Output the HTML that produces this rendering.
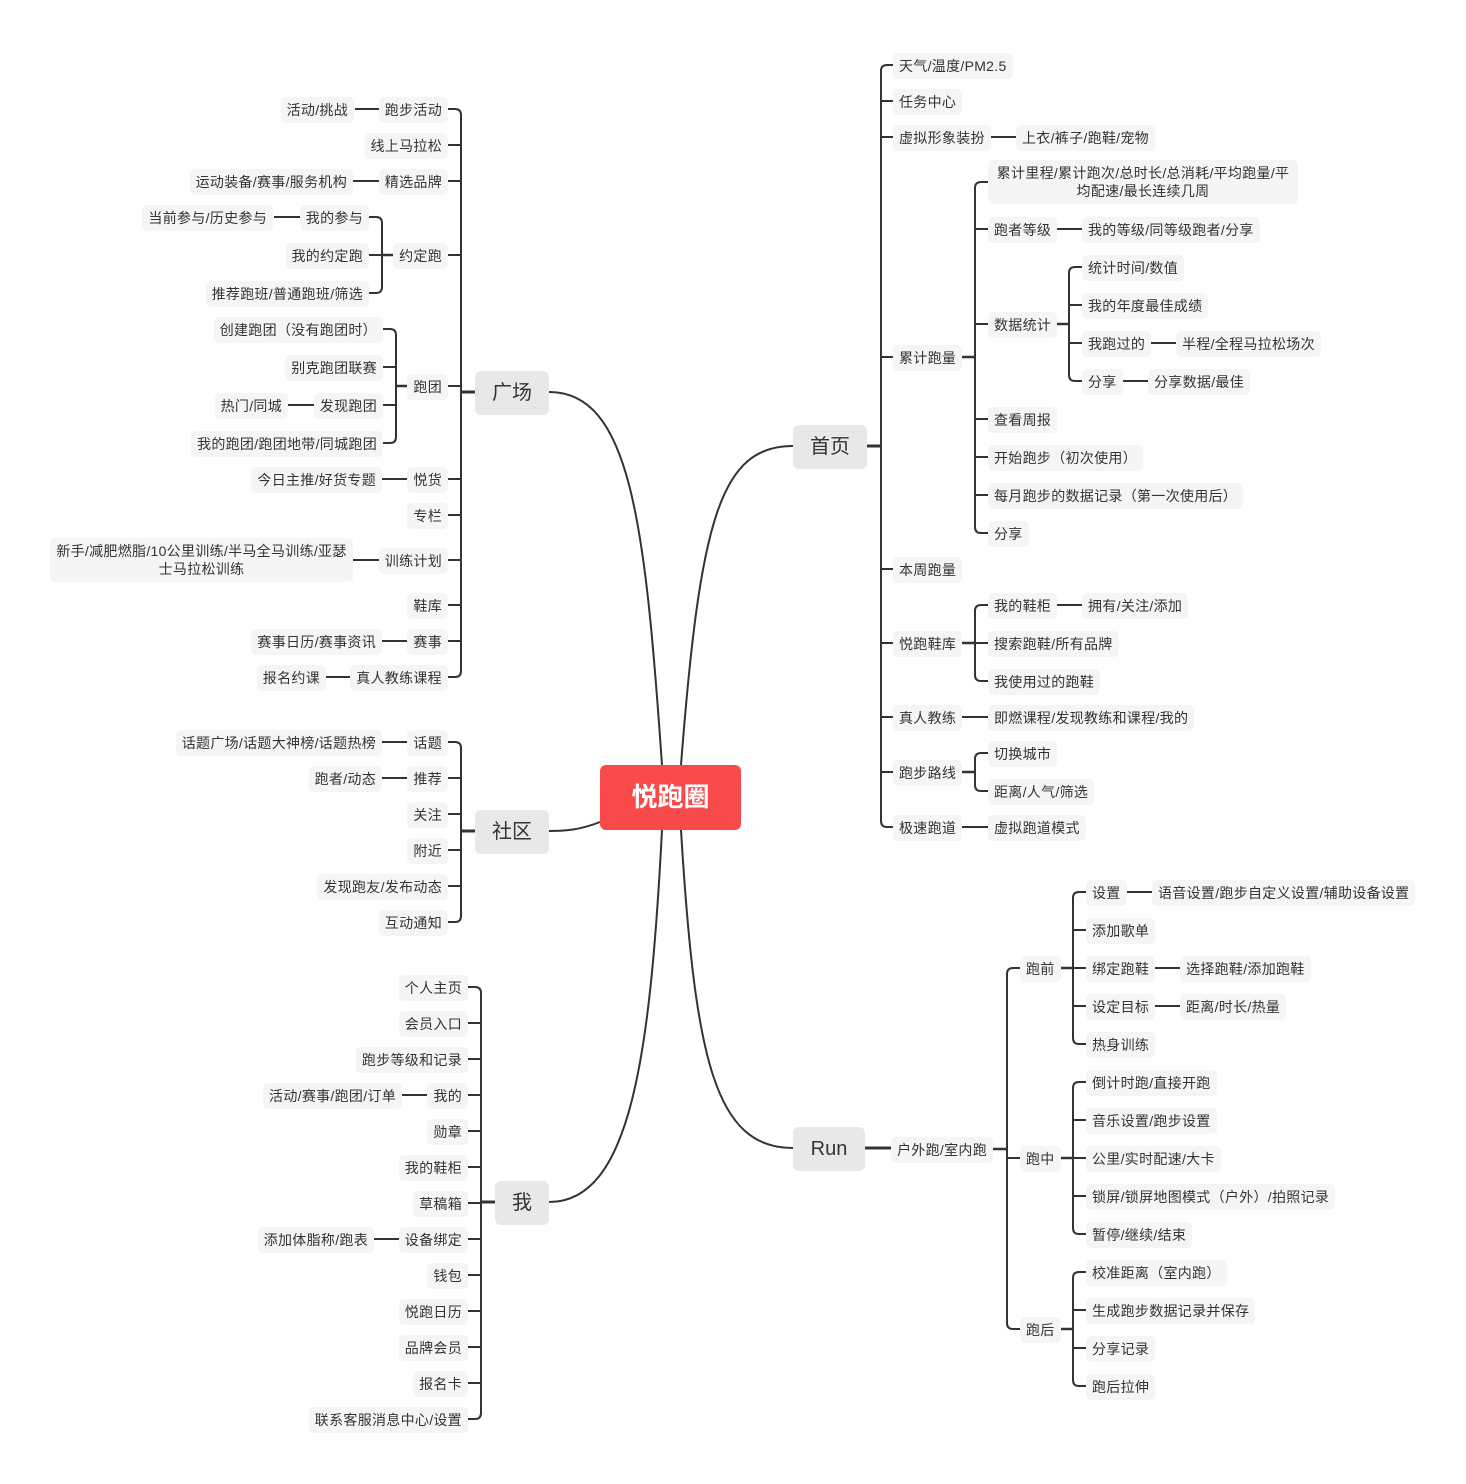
<!DOCTYPE html>
<html><head><meta charset="utf-8"><style>
body{margin:0;width:1466px;height:1484px;background:#fff;position:relative;overflow:hidden;font-family:"Liberation Sans","Noto Sans CJK SC",sans-serif;}
.n{position:absolute;height:26px;line-height:26px;padding:0 6px;background:#f5f5f5;border-radius:5px;font-size:14px;letter-spacing:0.3px;color:#333;white-space:nowrap;transform:translateY(1px);}
.w{position:absolute;padding:4px 6px;background:#f5f5f5;border-radius:5px;font-size:14px;letter-spacing:0.3px;line-height:18px;color:#333;text-align:center;transform:translateY(1px);}
.m{position:absolute;height:44px;line-height:44px;background:#e8e8e8;border-radius:6px;font-size:20px;color:#333;text-align:center;transform:translateY(1px);}
.c{position:absolute;left:600px;top:765px;width:141px;height:65px;line-height:65px;background:#f84a4b;border-radius:6px;color:#fff;font-size:26px;font-weight:bold;text-align:center;}
svg{position:absolute;left:0;top:0;}
</style></head><body>
<svg width="1466" height="1484" fill="none" stroke="#333" stroke-width="2">
<path d="M662,765 C645,520 630,392 549,392"/>
<path d="M681,765 C700,520 720,446 793,446"/>
<path d="M600,822 C580,830 565,831 549,831"/>
<path d="M662,830 C650,1060 630,1202 549,1202"/>
<path d="M681,830 C695,1060 715,1148 793,1148"/>
<path stroke-width="3" d="M867,446H881"/>
<path d="M893,65H887Q881,65 881,71V821Q881,827 887,827H893M881,101H893M881,137H893M881,357H893M881,569H893M881,643H893M881,717H893M881,772H893"/>
<path d="M989,137H1016"/>
<path stroke-width="2.5" d="M961,357H975"/>
<path d="M988,182H981Q975,182 975,188V527Q975,533 981,533H988M975,229H988M975,324H988M975,419H988M975,457H988M975,495H988"/>
<path d="M1054,229H1082"/>
<path stroke-width="2.5" d="M1055,324H1069"/>
<path d="M1082,267H1075Q1069,267 1069,273V375Q1069,381 1075,381H1082M1069,305H1082M1069,343H1082"/>
<path d="M1149,343H1176M1121,381H1148"/>
<path stroke-width="2.5" d="M961,643H975"/>
<path d="M988,605H981Q975,605 975,611V675Q975,681 981,681H988M975,643H988"/>
<path d="M1055,605H1082M961,717H988M961,827H988"/>
<path stroke-width="2.5" d="M961,772H975"/>
<path d="M988,753H981Q975,753 975,759V785Q975,791 981,791H988"/>
<path stroke-width="3" d="M865,1148H891"/>
<path stroke-width="2.5" d="M993,1149H1007"/>
<path d="M1020,968H1013Q1007,968 1007,974V1323Q1007,1329 1013,1329H1020M1007,1158H1020"/>
<path stroke-width="2.5" d="M1059,968H1073M1059,1158H1073M1059,1329H1073"/>
<path d="M1086,892H1079Q1073,892 1073,898V1038Q1073,1044 1079,1044H1086M1073,930H1086M1073,968H1086M1073,1006H1086"/>
<path d="M1086,1082H1079Q1073,1082 1073,1088V1228Q1073,1234 1079,1234H1086M1073,1120H1086M1073,1158H1086M1073,1196H1086"/>
<path d="M1086,1272H1079Q1073,1272 1073,1278V1380Q1073,1386 1079,1386H1086M1073,1310H1086M1073,1348H1086"/>
<path d="M1125,892H1152M1153,968H1180M1153,1006H1180"/>
<path stroke-width="3" d="M475,392H461"/>
<path d="M448,109H455Q461,109 461,115V671Q461,677 455,677H448M461,145H448M461,181H448M461,255H448M461,386H448M461,479H448M461,515H448M461,560H448M461,605H448M461,641H448"/>
<path stroke-width="2.5" d="M394,255H382M408,386H396"/>
<path d="M369,217H376Q382,217 382,223V287Q382,293 376,293H369M382,255H369"/>
<path d="M383,329H390Q396,329 396,335V437Q396,443 390,443H383M396,367H383M396,405H383"/>
<path d="M380,109H355M380,181H353M300,217H274M314,405H288M408,479H382M380,560H353M408,641H382M352,677H326"/>
<path stroke-width="3" d="M475,831H461"/>
<path d="M448,742H455Q461,742 461,748V916Q461,922 455,922H448M461,778H448M461,814H448M461,850H448M461,886H448"/>
<path d="M408,742H382M408,778H382"/>
<path stroke-width="3" d="M495,1202H481"/>
<path d="M468,987H475Q481,987 481,993V1413Q481,1419 475,1419H468M481,1023H468M481,1059H468M481,1095H468M481,1131H468M481,1167H468M481,1203H468M481,1239H468M481,1275H468M481,1311H468M481,1347H468M481,1383H468"/>
<path d="M428,1095H402M400,1239H374"/>
</svg>

<div class="c">悦跑圈</div>
<div class="m" style="left:793px;top:424px;width:74px">首页</div>
<div class="m" style="left:793px;top:1126px;width:72px">Run</div>
<div class="m" style="left:475px;top:370px;width:74px">广场</div>
<div class="m" style="left:475px;top:809px;width:74px">社区</div>
<div class="m" style="left:495px;top:1180px;width:54px">我</div>

<div class="n" style="left:893px;top:52px">天气/温度/PM2.5</div>
<div class="n" style="left:893px;top:88px">任务中心</div>
<div class="n" style="left:893px;top:124px">虚拟形象装扮</div>
<div class="n" style="left:1016px;top:124px">上衣/裤子/跑鞋/宠物</div>
<div class="n" style="left:893px;top:344px">累计跑量</div>
<div class="w" style="left:988px;top:159px;width:298px">累计里程/累计跑次/总时长/总消耗/平均跑量/平均配速/最长连续几周</div>
<div class="n" style="left:988px;top:216px">跑者等级</div>
<div class="n" style="left:1082px;top:216px">我的等级/同等级跑者/分享</div>
<div class="n" style="left:988px;top:311px">数据统计</div>
<div class="n" style="left:1082px;top:254px">统计时间/数值</div>
<div class="n" style="left:1082px;top:292px">我的年度最佳成绩</div>
<div class="n" style="left:1082px;top:330px">我跑过的</div>
<div class="n" style="left:1176px;top:330px">半程/全程马拉松场次</div>
<div class="n" style="left:1082px;top:368px">分享</div>
<div class="n" style="left:1148px;top:368px">分享数据/最佳</div>
<div class="n" style="left:988px;top:406px">查看周报</div>
<div class="n" style="left:988px;top:444px">开始跑步（初次使用）</div>
<div class="n" style="left:988px;top:482px">每月跑步的数据记录（第一次使用后）</div>
<div class="n" style="left:988px;top:520px">分享</div>
<div class="n" style="left:893px;top:556px">本周跑量</div>
<div class="n" style="left:893px;top:630px">悦跑鞋库</div>
<div class="n" style="left:988px;top:592px">我的鞋柜</div>
<div class="n" style="left:1082px;top:592px">拥有/关注/添加</div>
<div class="n" style="left:988px;top:630px">搜索跑鞋/所有品牌</div>
<div class="n" style="left:988px;top:668px">我使用过的跑鞋</div>
<div class="n" style="left:893px;top:704px">真人教练</div>
<div class="n" style="left:988px;top:704px">即燃课程/发现教练和课程/我的</div>
<div class="n" style="left:893px;top:759px">跑步路线</div>
<div class="n" style="left:988px;top:740px">切换城市</div>
<div class="n" style="left:988px;top:778px">距离/人气/筛选</div>
<div class="n" style="left:893px;top:814px">极速跑道</div>
<div class="n" style="left:988px;top:814px">虚拟跑道模式</div>

<div class="n" style="left:891px;top:1136px">户外跑/室内跑</div>
<div class="n" style="left:1020px;top:955px">跑前</div>
<div class="n" style="left:1086px;top:879px">设置</div>
<div class="n" style="left:1152px;top:879px">语音设置/跑步自定义设置/辅助设备设置</div>
<div class="n" style="left:1086px;top:917px">添加歌单</div>
<div class="n" style="left:1086px;top:955px">绑定跑鞋</div>
<div class="n" style="left:1180px;top:955px">选择跑鞋/添加跑鞋</div>
<div class="n" style="left:1086px;top:993px">设定目标</div>
<div class="n" style="left:1180px;top:993px">距离/时长/热量</div>
<div class="n" style="left:1086px;top:1031px">热身训练</div>
<div class="n" style="left:1020px;top:1145px">跑中</div>
<div class="n" style="left:1086px;top:1069px">倒计时跑/直接开跑</div>
<div class="n" style="left:1086px;top:1107px">音乐设置/跑步设置</div>
<div class="n" style="left:1086px;top:1145px">公里/实时配速/大卡</div>
<div class="n" style="left:1086px;top:1183px">锁屏/锁屏地图模式（户外）/拍照记录</div>
<div class="n" style="left:1086px;top:1221px">暂停/继续/结束</div>
<div class="n" style="left:1020px;top:1316px">跑后</div>
<div class="n" style="left:1086px;top:1259px">校准距离（室内跑）</div>
<div class="n" style="left:1086px;top:1297px">生成跑步数据记录并保存</div>
<div class="n" style="left:1086px;top:1335px">分享记录</div>
<div class="n" style="left:1086px;top:1373px">跑后拉伸</div>

<div class="n" style="right:1018px;top:96px">跑步活动</div>
<div class="n" style="right:1112px;top:96px">活动/挑战</div>
<div class="n" style="right:1018px;top:132px">线上马拉松</div>
<div class="n" style="right:1018px;top:168px">精选品牌</div>
<div class="n" style="right:1113px;top:168px">运动装备/赛事/服务机构</div>
<div class="n" style="right:1018px;top:242px">约定跑</div>
<div class="n" style="right:1097px;top:204px">我的参与</div>
<div class="n" style="right:1193px;top:204px">当前参与/历史参与</div>
<div class="n" style="right:1097px;top:242px">我的约定跑</div>
<div class="n" style="right:1097px;top:280px">推荐跑班/普通跑班/筛选</div>
<div class="n" style="right:1018px;top:373px">跑团</div>
<div class="n" style="right:1083px;top:316px">创建跑团（没有跑团时）</div>
<div class="n" style="right:1083px;top:354px">别克跑团联赛</div>
<div class="n" style="right:1083px;top:392px">发现跑团</div>
<div class="n" style="right:1178px;top:392px">热门/同城</div>
<div class="n" style="right:1083px;top:430px">我的跑团/跑团地带/同城跑团</div>
<div class="n" style="right:1018px;top:466px">悦货</div>
<div class="n" style="right:1084px;top:466px">今日主推/好货专题</div>
<div class="n" style="right:1018px;top:502px">专栏</div>
<div class="n" style="right:1018px;top:547px">训练计划</div>
<div class="w" style="left:50px;top:537px;width:291px">新手/减肥燃脂/10公里训练/半马全马训练/亚瑟士马拉松训练</div>
<div class="n" style="right:1018px;top:592px">鞋库</div>
<div class="n" style="right:1018px;top:628px">赛事</div>
<div class="n" style="right:1084px;top:628px">赛事日历/赛事资讯</div>
<div class="n" style="right:1018px;top:664px">真人教练课程</div>
<div class="n" style="right:1140px;top:664px">报名约课</div>

<div class="n" style="right:1018px;top:729px">话题</div>
<div class="n" style="right:1084px;top:729px">话题广场/话题大神榜/话题热榜</div>
<div class="n" style="right:1018px;top:765px">推荐</div>
<div class="n" style="right:1084px;top:765px">跑者/动态</div>
<div class="n" style="right:1018px;top:801px">关注</div>
<div class="n" style="right:1018px;top:837px">附近</div>
<div class="n" style="right:1018px;top:873px">发现跑友/发布动态</div>
<div class="n" style="right:1018px;top:909px">互动通知</div>

<div class="n" style="right:998px;top:974px">个人主页</div>
<div class="n" style="right:998px;top:1010px">会员入口</div>
<div class="n" style="right:998px;top:1046px">跑步等级和记录</div>
<div class="n" style="right:998px;top:1082px">我的</div>
<div class="n" style="right:1064px;top:1082px">活动/赛事/跑团/订单</div>
<div class="n" style="right:998px;top:1118px">勋章</div>
<div class="n" style="right:998px;top:1154px">我的鞋柜</div>
<div class="n" style="right:998px;top:1190px">草稿箱</div>
<div class="n" style="right:998px;top:1226px">设备绑定</div>
<div class="n" style="right:1092px;top:1226px">添加体脂称/跑表</div>
<div class="n" style="right:998px;top:1262px">钱包</div>
<div class="n" style="right:998px;top:1298px">悦跑日历</div>
<div class="n" style="right:998px;top:1334px">品牌会员</div>
<div class="n" style="right:998px;top:1370px">报名卡</div>
<div class="n" style="right:998px;top:1406px">联系客服消息中心/设置</div>
</body></html>
